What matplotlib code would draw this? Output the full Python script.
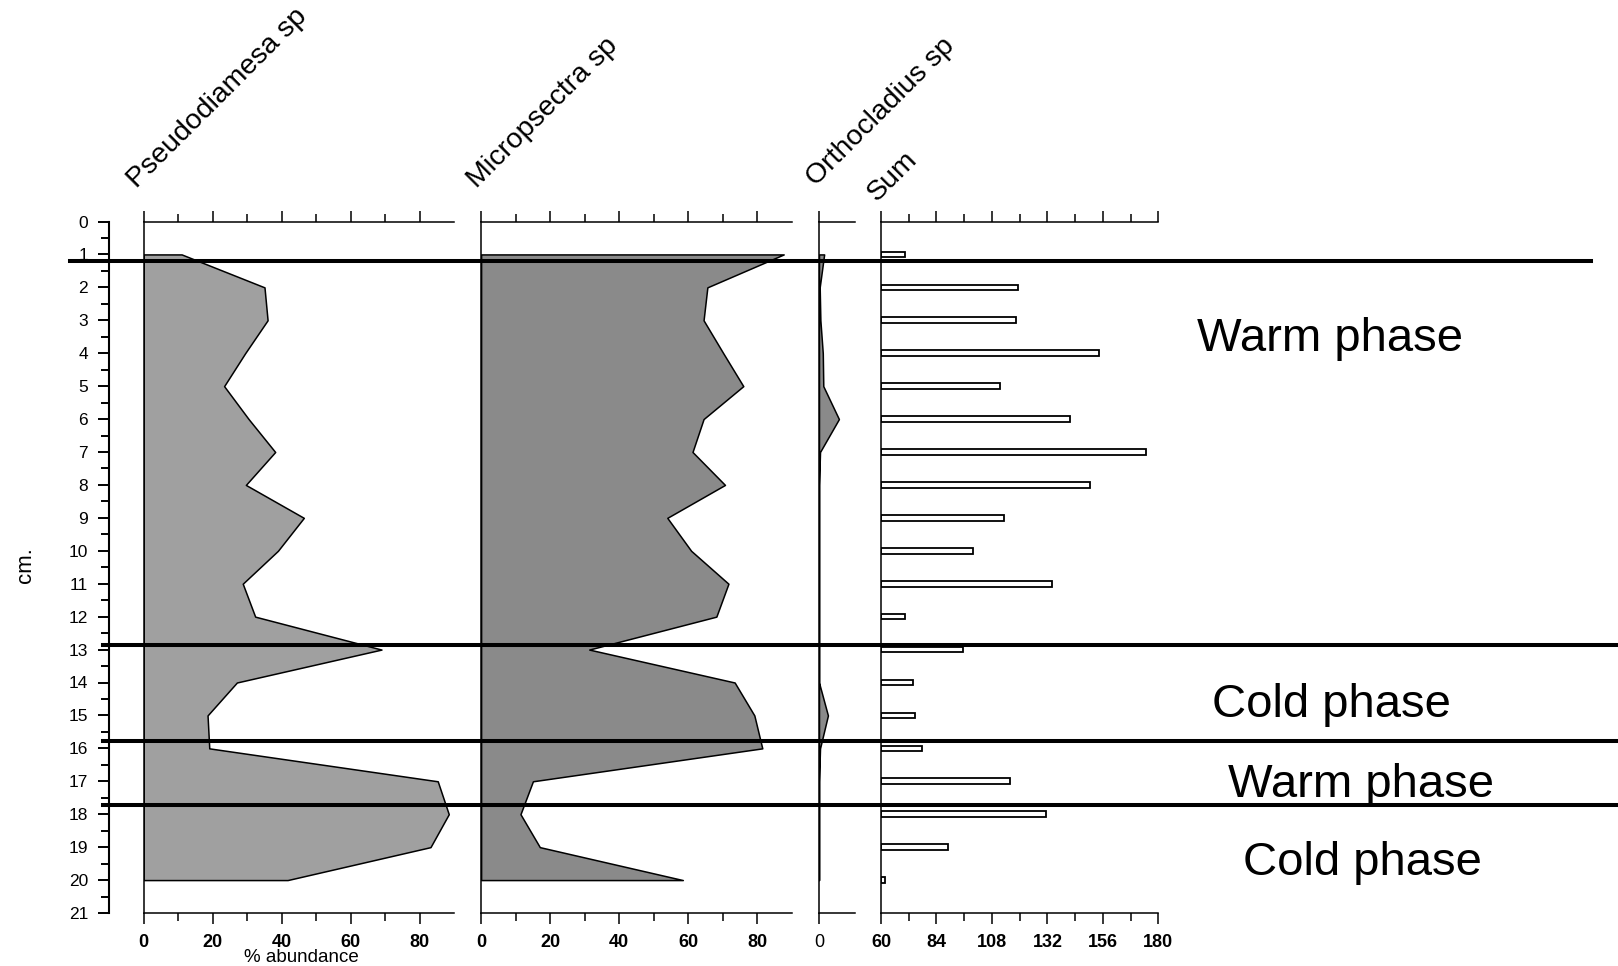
import matplotlib
matplotlib.use('Agg')
import matplotlib.pyplot as plt
import numpy as np
from matplotlib.ticker import MultipleLocator, FixedLocator

plt.rcParams['font.family'] = ['Liberation Sans', 'DejaVu Sans']

# data
depths = np.arange(1, 21)
pseudodiamesa = [11.0, 35.0, 35.9, 29.4, 23.3, 30.4, 38.1, 29.6, 46.4, 38.9,
                 28.7, 32.3, 68.9, 27.0, 18.5, 19.0, 85.2, 88.4, 83.1, 41.7]
micropsectra = [87.6, 65.5, 64.4, 70.1, 75.9, 64.4, 61.2, 70.6, 53.9, 60.8,
                71.6, 68.1, 31.3, 73.4, 79.1, 81.4, 15.0, 11.4, 17.0, 58.4]
orthocladius = [1.5, 0.2, 0.4, 1.1, 1.25, 5.8, 0.3, 0.0, 0.0, 0.0,
                0.0, 0.0, 0.0, 0.0, 2.6, 0.3, 0.0, 0.0, 0.0, 0.0]
sums = [70.4, 119.4, 118.5, 154.3, 111.6, 141.6, 174.6, 150.4, 113.1, 99.7,
        133.8, 70.4, 95.5, 73.7, 74.5, 77.8, 115.7, 131.5, 88.8, 61.9]

titles = ['Pseudodiamesa sp', 'Micropsectra sp', 'Orthocladius sp', 'Sum']
sum_ticks = [60, 84, 108, 132, 156, 180]
sum_minor = [72, 96, 120, 144, 168]
phase_depths = [1.20, 12.86, 15.79, 17.72]
phase_labels = ['Warm phase', 'Cold phase', 'Warm phase', 'Cold phase']
phase_label_depths = [3.92, 15.06, 17.47, 19.85]

W, H = 1618, 966
fig = plt.figure(figsize=(W / 100, H / 100), dpi=100)

top_px, bot_px = 221.5, 913.0
ax_bottom = 1 - bot_px / H
ax_height = (bot_px - top_px) / H


def add_ax(x0, x1):
    return fig.add_axes([x0 / W, ax_bottom, (x1 - x0) / W, ax_height])


def style_panel(ax):
    ax.set_ylim(21, 0)
    ax.spines['right'].set_visible(False)
    for s in ['left', 'top', 'bottom']:
        ax.spines[s].set_linewidth(1.1)
    ax.set_yticks([])
    ax.tick_params(axis='x', which='both', top=True, bottom=True,
                   direction='out', width=1.1, labelsize=13, pad=7)
    ax.tick_params(axis='x', which='major', length=7.9)
    ax.tick_params(axis='x', which='minor', length=5.8)
    for lab in ax.get_xticklabels():
        lab.set_fontweight('bold')
    ax.patch.set_alpha(0)


# depth axis
axd = add_ax(109, 112)
axd.set_ylim(21, 0)
for s in ['right', 'top', 'bottom']:
    axd.spines[s].set_visible(False)
axd.spines['left'].set_linewidth(1.5)
axd.set_xticks([])
axd.yaxis.set_major_locator(MultipleLocator(1))
axd.yaxis.set_minor_locator(MultipleLocator(0.5))
axd.tick_params(axis='y', which='major', length=8, width=1.4, labelsize=12.5, pad=7)
axd.tick_params(axis='y', which='minor', length=5.8, width=1.4)
axd.patch.set_alpha(0)

# Pseudodiamesa
ax1 = add_ax(143.7, 454.3)
ax1.fill_betweenx(depths, 0, pseudodiamesa, facecolor='#a0a0a0',
                  edgecolor='black', linewidth=1.1)
ax1.set_xlim(0, 90)
ax1.xaxis.set_major_locator(FixedLocator([0, 20, 40, 60, 80]))
ax1.xaxis.set_minor_locator(FixedLocator([10, 30, 50, 70]))
style_panel(ax1)

# Micropsectra
ax2 = add_ax(481.1, 792.0)
ax2.fill_betweenx(depths, 0, micropsectra, facecolor='#8a8a8a',
                  edgecolor='black', linewidth=1.1)
ax2.set_xlim(0, 90)
ax2.xaxis.set_major_locator(FixedLocator([0, 20, 40, 60, 80]))
ax2.xaxis.set_minor_locator(FixedLocator([10, 30, 50, 70]))
style_panel(ax2)

# Orthocladius
ax3 = add_ax(819.0, 854.7)
ax3.fill_betweenx(depths, 0, orthocladius, facecolor='#8a8a8a',
                  edgecolor='black', linewidth=1.1)
ax3.set_xlim(0, 10.4)
ax3.xaxis.set_major_locator(FixedLocator([0]))
ax3.xaxis.set_minor_locator(FixedLocator([]))
style_panel(ax3)
for lab in ax3.get_xticklabels():
    lab.set_fontweight('normal')

# Sum
ax4 = add_ax(881.0, 1158.4)
ax4.barh(depths, np.array(sums) - 60, left=60, height=0.17,
         facecolor='white', edgecolor='black', linewidth=1.3)
ax4.set_xlim(60, 180)
ax4.xaxis.set_major_locator(FixedLocator(sum_ticks))
ax4.xaxis.set_minor_locator(FixedLocator(sum_minor))
style_panel(ax4)

# rotated titles
title_px = [(137.0, 188.5), (477.0, 189.0), (816.0, 187.0), (877.0, 202.0)]
for t, (x, y) in zip(titles, title_px):
    fig.text(x / W, 1 - y / H, t, rotation=45, rotation_mode='anchor',
             ha='left', va='baseline', fontsize=20.5)

fig.text(25 / W, 1 - 565 / H, 'cm.', rotation=90, ha='center', va='center', fontsize=16)
fig.text(301 / W, 1 - 961.5 / H, '% abundance', ha='center', va='baseline', fontsize=13.5)

# overlay with phase boundaries
axo = fig.add_axes([0, ax_bottom, 1, ax_height])
axo.set_ylim(21, 0)
axo.set_xlim(0, 1)
axo.axis('off')
axo.patch.set_alpha(0)
for i, d in enumerate(phase_depths):
    if i == 0:
        axo.axhline(d, xmin=70 / W, xmax=1591 / W, color='black', linewidth=2.9)
    else:
        axo.axhline(d, xmin=103 / W, xmax=1, color='black', linewidth=2.9)

label_x = [1330, 1331, 1361.5, 1362]
for t, d, x in zip(phase_labels, phase_label_depths, label_x):
    axo.text(x / W, d, t, ha='center', va='baseline', fontsize=34)

fig.savefig('out.png', dpi=100)
